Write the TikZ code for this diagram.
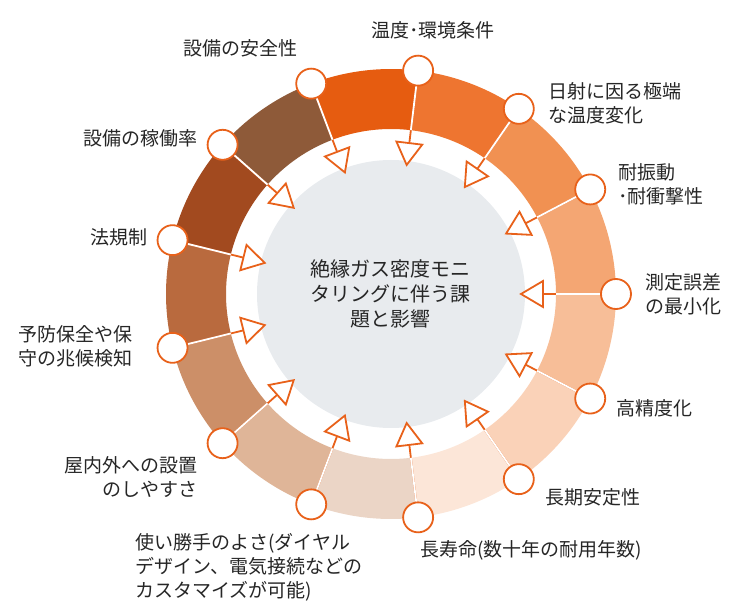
\documentclass[tikz,border=0pt]{standalone}
\usepackage{fontspec}
\setmainfont{Noto Sans CJK JP}
\definecolor{ln}{HTML}{E8611A}
\definecolor{gr}{HTML}{E8EBEE}
\begin{document}
\begin{tikzpicture}[x=1pt,y=1pt,
  dot/.style={circle,draw=ln,fill=white,line width=1.8pt,minimum size=30pt,inner sep=0pt},
  lab/.style={font=\fontsize{19}{24}\selectfont,text=black!85,inner sep=0pt},
  arr/.style={draw=ln,line width=1.8pt},
  head/.style={draw=ln,fill=white,line width=1.8pt,line join=miter}]
\useasboundingbox (-391,294) rectangle (354,-321);
\def\st{27.6923}
\foreach \c [count=\i from 0] in {E65C10,EE7530,F19152,F4A673,F7BE98,FAD2B8,FCE6D8,EBD5C6,DFB598,CC8F68,B96A3E,A24A1F,8E5A39}{
  \definecolor{sc}{HTML}{\c}
  \pgfmathsetmacro\aa{110.769-\i*\st}
  \pgfmathsetmacro\ab{\aa-\st}
  \fill[sc] (\aa:225) arc[start angle=\aa,end angle=\ab,radius=225] -- (\ab:165) arc[start angle=\ab,end angle=\aa,radius=165] -- cycle;
}
\fill[gr] (0,0) circle (134);
\node[lab,align=center,font=\fontsize{20}{25}\selectfont] (ctr) at (0,0) {絶縁ガス密度モニ\\タリングに伴う課\\題と影響};
\foreach \i in {0,...,12}{
  \pgfmathsetmacro\a{\i*\st}
  \coordinate (t\i) at (\a:131);
  \coordinate (b\i) at (\a:152);
  \coordinate (w\i) at (\a:165);
  \coordinate (p\i) at (\a:225);
  \draw[arr] (p\i) -- (b\i);
  \draw[white,line width=1.8pt] (p\i) -- (w\i);
  \draw[head,rotate=\a] (130,0) -- (152,13) -- (152,-13) -- cycle;
  \node[dot] (c\i) at (p\i) {};
}
\node[lab,anchor=center] (l3) at (42,264) {温度･環境条件};
\node[lab,anchor=west,align=left] (l2) at (157,191) {日射に因る極端\\な温度変化};
\node[lab,anchor=west,align=left] (l1) at (227,110) {耐振動\\･耐衝撃性};
\node[lab,anchor=west,align=left] (l0) at (254,0) {測定誤差\\の最小化};
\node[lab,anchor=west] (l12) at (225,-114) {高精度化};
\node[lab,anchor=west] (l11) at (154,-203) {長期安定性};
\node[lab,anchor=west] (l10) at (29,-256) {長寿命(数十年の耐用年数)};
\node[lab,anchor=west,align=left] (l9) at (-256,-273) {使い勝手のよさ(ダイヤル\\デザイン、電気接続などの\\カスタマイズが可能)};
\node[lab,anchor=east,align=right] (l8) at (-193,-183) {屋内外への設置\\のしやすさ};
\node[lab,anchor=west,align=left] (l7) at (-373,-52) {予防保全や保\\守の兆候検知};
\node[lab,anchor=east] (l6) at (-243,57) {法規制};
\node[lab,anchor=east] (l5) at (-193,156) {設備の稼働率};
\node[lab,anchor=center] (l4) at (-150,246) {設備の安全性};
\end{tikzpicture}
\end{document}
